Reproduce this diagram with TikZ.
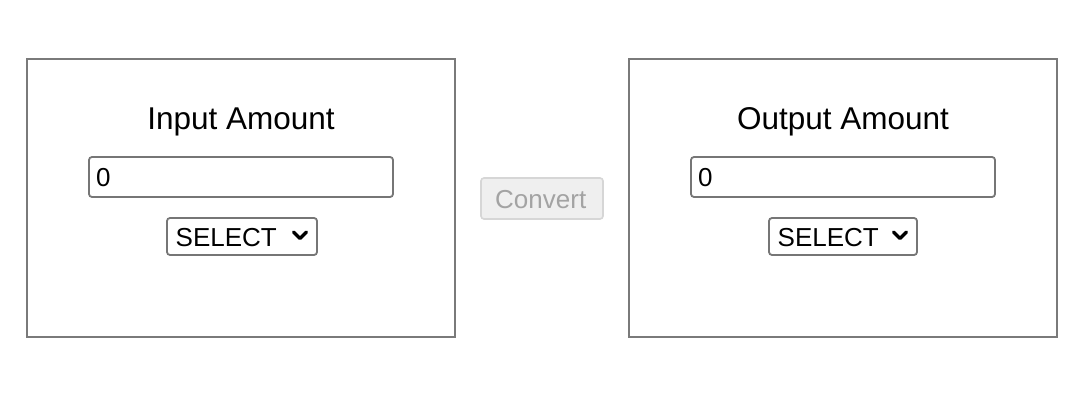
\documentclass[tikz,border=0pt]{standalone}
\usepackage{fontspec}
\setmainfont{Liberation Sans}
\definecolor{panelborder}{HTML}{7A7A7A}
\definecolor{fieldborder}{HTML}{767676}
\definecolor{btnfill}{HTML}{EFEFEF}
\definecolor{btnborder}{HTML}{D6D6D6}
\definecolor{btntext}{HTML}{A3A3A3}
\tikzset{
  panelbox/.style={draw=panelborder, line width=2pt},
  fieldbox/.style={draw=fieldborder, line width=1.8pt, rounded corners=3pt},
  titletext/.style={font=\fontsize{31.5}{36}\selectfont, inner sep=0pt, anchor=base},
  ctrltext/.style={font=\fontsize{26}{30}\selectfont, inner sep=0pt, anchor=base west},
  chev/.style={line width=3.5pt, line cap=round, line join=round},
  btnbox/.style={draw=btnborder, fill=btnfill, line width=1.6pt, rounded corners=3pt},
}
\newcommand\mypanel[4]{%
  \begin{scope}[xshift=#2pt]
    \draw[panelbox] (27,59) rectangle (455,337);
    \node[titletext] (#1-title) at (241,130) {#3};
    \draw[fieldbox] (89,157) rectangle (393,197);
    \node[ctrltext] (#1-value) at (96,187) {0};
    \draw[fieldbox] (167,218) rectangle (#4,255);
    \node[ctrltext] (#1-select) at (175.5,246) {SELECT};
    \draw[chev] (#4-23.5,232) -- (#4-17,238.5) -- (#4-10.5,232);
  \end{scope}}
\begin{document}
\begin{tikzpicture}[x=1pt,y=-1pt]
\useasboundingbox (0,0) rectangle (1084,406);
\fill[white] (0,0) rectangle (1084,406);
\mypanel{in}{0}{Input Amount}{317}
\mypanel{out}{602}{Output Amount}{315}
\draw[btnbox] (481,178) rectangle (603,219);
\node[ctrltext, text=btntext] (convert) at (495,208) {Convert};
\end{tikzpicture}
\end{document}
